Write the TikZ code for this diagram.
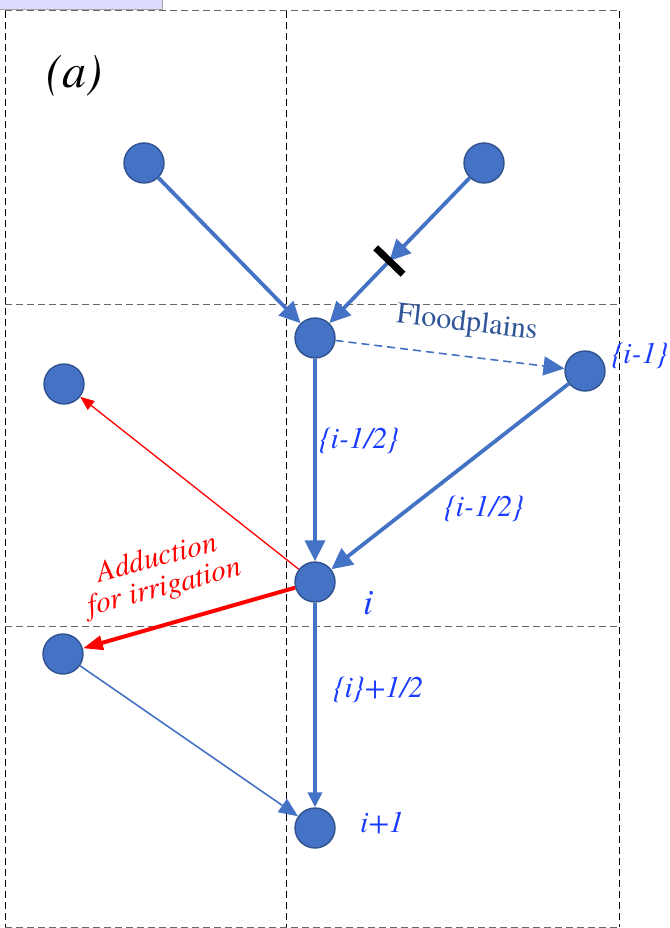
\documentclass[tikz,border=0pt]{standalone}
\usepackage{fontspec}
\setmainfont{texgyretermes-regular.otf}[ItalicFont=texgyretermes-italic.otf, BoldFont=texgyretermes-bold.otf]
\usepackage{tikz}
\usetikzlibrary{arrows.meta,calc}
\usepackage{xcolor}
\definecolor{cellblue}{HTML}{4472C4}
\definecolor{celledge}{HTML}{2F528F}
\definecolor{labblue}{HTML}{1A3CFF}
\definecolor{floodblue}{HTML}{2F5597}

\begin{document}
\begin{tikzpicture}[
    x=1pt, y=-1pt,
    cell/.style={circle, fill=cellblue, draw=celledge, line width=1.4pt, minimum size=40pt, inner sep=0pt},
    flow/.style={draw=cellblue, line width=3.8pt, -{Triangle[length=21pt,width=20pt]}},
    thinflow/.style={draw=cellblue, line width=1.6pt, -{Triangle[length=19pt,width=16pt]}},
    irrig/.style={draw=red, line width=4pt, -{Triangle[length=20pt,width=14pt]}},
    lbl/.style={font=\fontsize{30}{32}\selectfont\itshape, text=labblue, inner sep=0pt},
    gridh/.style={draw=black!60, line width=1pt, dash pattern=on 7pt off 4pt},
    gridv/.style={draw=black, line width=0.9pt, dash pattern=on 7pt off 4pt}
]
    \useasboundingbox (0,0) rectangle (669,928);
    \clip (0,0) rectangle (669,928);

    % Tab at top left
    \path[fill=blue!14!white, draw=black!35, line width=0.8pt] (-2,-2) rectangle (162,9);

    % Grid
    \draw[gridh] (5,11) -- (619,11);
    \draw[gridh] (5,304) -- (619,304);
    \draw[gridh] (5,626) -- (619,626);
    \draw[gridh] (5,927) -- (619,927);
    \draw[gridv] (5,11) -- (5,927);
    \draw[gridv] (286,11) -- (286,927);
    \draw[gridv] (619,11) -- (619,927);

    \node[font=\fontsize{48}{50}\selectfont\itshape, inner sep=0pt] (panel) at (74,76) {(a)};

    % Cells
    \node[cell] (up1) at (144,163) {};
    \node[cell] (up2) at (484,163) {};
    \node[cell] (top) at (315,338) {};
    \node[cell] (fieldA) at (64,384) {};
    \node[cell] (side) at (585,371) {};
    \node[cell] (ci) at (315,582) {};
    \node[cell] (fieldB) at (63,654) {};
    \node[cell] (next) at (315,828) {};

    % Dam on the upper reach
    \coordinate (dam) at ($(up2)!0.56!(top)$);

    % Connections
    \draw[flow] (up1) -- (top);
    \draw[flow] (up2) -- (dam);
    \draw[flow] (dam) -- (top);
    \draw[black, line width=7pt] ($(dam)!19pt!90:(top)$) -- ($(dam)!19pt!-90:(top)$);

    \draw[thinflow, dash pattern=on 8pt off 5pt, -{Triangle[length=21pt,width=19pt]}] (top) -- (side);
    \draw[flow] (top) -- (ci);
    \draw[flow] (side) -- (ci);
    \draw[flow, -{Triangle[length=15pt,width=14pt]}] (ci) -- (next);
    \draw[thinflow] (fieldB) -- (next);

    \draw[red, line width=1.3pt, -{Triangle[length=14pt,width=11pt]}] (ci) -- (fieldA);
    \draw[irrig] (ci) -- (fieldB);

    % Labels
    \node[font=\fontsize{30}{32}\selectfont, text=floodblue, rotate=-6.6, inner sep=0pt] (floodlbl) at (467,324) {Floodplains};
    \node[lbl, anchor=west] (sidelbl) at (611,356) {\{i-1\}};
    \node[lbl] (halfA) at (359,441) {\{i-1/2\}};
    \node[lbl] (halfB) at (484,509) {\{i-1/2\}};
    \node[lbl] (halfC) at (378,690) {\{i\}+1/2};
    \node[lbl, font=\fontsize{36}{38}\selectfont\itshape] (ilbl) at (368,603) {i};
    \node[lbl] (nextlbl) at (382,823) {i+1};
    \node[font=\fontsize{30}{30}\selectfont\itshape, text=red, align=center, rotate=15, inner sep=0pt] (irriglbl) at (161,574) {Adduction\\for irrigation};
\end{tikzpicture}
\end{document}
